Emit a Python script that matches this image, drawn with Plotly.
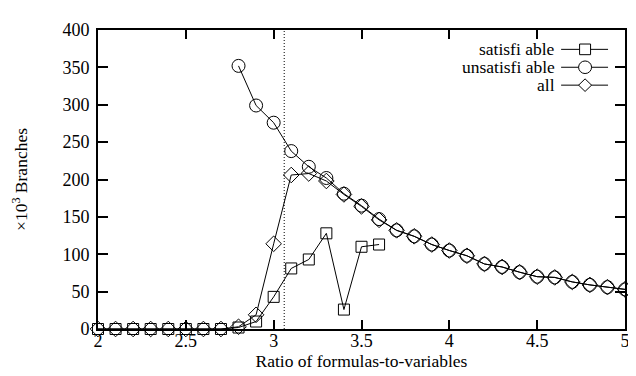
import plotly.graph_objects as go

ratio = [round(2.0 + 0.1 * i, 1) for i in range(31)]

sat_x = [2.0, 2.1, 2.2, 2.3, 2.4, 2.5, 2.6, 2.7, 2.8, 2.9, 3.0, 3.1, 3.2, 3.3, 3.4, 3.5, 3.6]
sat_y = [0, 0, 0, 0, 0, 0, 0, 0, 2, 10, 43, 81, 93, 128, 26, 110, 113]

unsat_x = [2.8, 2.9, 3.0, 3.1, 3.2, 3.3, 3.4, 3.5, 3.6, 3.7, 3.8, 3.9, 4.0, 4.1, 4.2,
           4.3, 4.4, 4.5, 4.6, 4.7, 4.8, 4.9, 5.0]
unsat_y = [352, 299, 276, 238, 217, 202, 181, 165, 147, 132, 124, 113, 105, 98, 87,
           83, 76, 70, 69, 63, 59, 56, 53]

all_x = ratio
all_y = [0, 0, 0, 0, 0, 0, 0, 0, 3, 19, 114, 206, 208, 198, 180, 164, 146, 132, 124,
         113, 105, 98, 87, 83, 76, 70, 69, 63, 59, 56, 53]

threshold = 3.06

FONT = "Liberation Serif"
TICK_SIZE = 18
TEXT_SIZE = 17.5

fig = go.Figure()
fig.add_trace(go.Scatter(x=sat_x, y=sat_y, mode="lines+markers", name="satisfi able",
                         line=dict(color="black", width=1),
                         marker=dict(symbol="square-open", size=11, color="black", line=dict(width=1)),
                         cliponaxis=False))
fig.add_trace(go.Scatter(x=unsat_x, y=unsat_y, mode="lines+markers", name="unsatisfi able",
                         line=dict(color="black", width=1),
                         marker=dict(symbol="circle-open", size=13, color="black", line=dict(width=1)),
                         cliponaxis=False))
fig.add_trace(go.Scatter(x=all_x, y=all_y, mode="lines+markers", name="all",
                         line=dict(color="black", width=1),
                         marker=dict(symbol="diamond-open", size=12, color="black", line=dict(width=1)),
                         cliponaxis=False))

# threshold line
fig.add_shape(type="line", xref="x", yref="paper", x0=threshold, x1=threshold, y0=0, y1=1,
              line=dict(color="black", width=1, dash="1px,2px"), layer="below")

# manual legend (symbol to the right of text, gnuplot style)
plot_l, plot_r, plot_t, plot_b = 89, 617, 12, 321
W = plot_r - plot_l
H = plot_b - plot_t
def px(x):
    return (x - plot_l) / W
def py(y):
    return (plot_b - y) / H

legend_names = ["satisfi able", "unsatisfi able", "all"]
rows = [32, 50.5, 69]
for name, yy in zip(legend_names, rows):
    fig.add_annotation(x=px(548), y=py(yy), xref="paper", yref="paper", text=name,
                       showarrow=False, xanchor="right", yanchor="middle", borderpad=0,
                       font=dict(family=FONT, size=TEXT_SIZE, color="black"))
    fig.add_shape(type="line", xref="paper", yref="paper", x0=px(553), x1=px(600),
                  y0=py(yy), y1=py(yy), line=dict(color="black", width=1))
cx = 577
# square
fig.add_shape(type="rect", xref="paper", yref="paper", x0=px(cx - 5.5), x1=px(cx + 5.5),
              y0=py(rows[0] + 5.5), y1=py(rows[0] - 5.5), line=dict(color="black", width=1),
              fillcolor="white")
# circle
fig.add_shape(type="circle", xref="paper", yref="paper", x0=px(cx - 6.5), x1=px(cx + 6.5),
              y0=py(rows[1] + 6.5), y1=py(rows[1] - 6.5), line=dict(color="black", width=1),
              fillcolor="white")
# diamond
d = 6.5
path = "M {a},{b} L {c},{e} L {a},{f} L {g},{e} Z".format(
    a=px(cx), b=py(rows[2] - d), c=px(cx + d), e=py(rows[2]), f=py(rows[2] + d), g=px(cx - d))
fig.add_shape(type="path", xref="paper", yref="paper", path=path,
              line=dict(color="black", width=1), fillcolor="white")

axis_common = dict(showgrid=False, zeroline=False, showline=True, linecolor="black", linewidth=2,
                   mirror="allticks", ticks="inside", tickcolor="black", tickwidth=1.5,
                   tickfont=dict(family=FONT, size=TICK_SIZE, color="black"))

fig.update_layout(
    width=636, height=376,
    margin=dict(l=plot_l, r=636 - plot_r, t=plot_t, b=376 - plot_b),
    paper_bgcolor="white", plot_bgcolor="white",
    showlegend=False,
    font=dict(family=FONT, size=TEXT_SIZE, color="black"),
    xaxis=dict(range=[2, 5], tick0=2, dtick=0.5, ticklen=9, ticklabelstandoff=-6,
               title=dict(text="Ratio of formulas-to-variables", font=dict(family=FONT, size=TEXT_SIZE), standoff=0),
               **axis_common),
    yaxis=dict(range=[0, 400], tick0=0, dtick=50, ticklen=10, ticklabelstandoff=3,
               title=dict(text="×10<sup>3</sup> Branches", font=dict(family=FONT, size=TEXT_SIZE), standoff=30),
               **axis_common),
)

fig.write_html("out.html")
